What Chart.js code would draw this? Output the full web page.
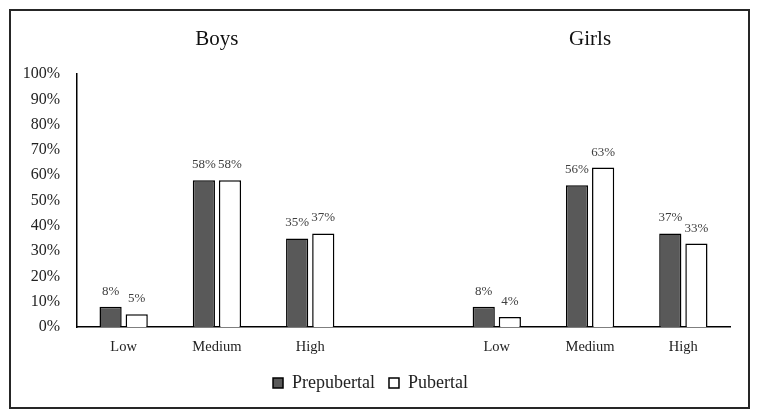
<!DOCTYPE html>
<html lang="en">

<head>
    <meta charset="UTF-8">
    <meta name="viewport" content="width=device-width, initial-scale=1.0">
    <title>Boys and Girls</title>
    <script src="https://cdn.jsdelivr.net/npm/chart.js"></script>
</head>

<body>
    <div class="container">
        <canvas id="groupChart" width="737" height="396"></canvas>
    </div>
</body>

</html>

<script>
    // values, in percent
    const categories = ["Low", "Medium", "High", "", "Low", "Medium", "High"];
    const prepubertal = [8, 58, 35, null, 8, 56, 37];
    const pubertal = [5, 58, 37, null, 4, 63, 33];
    const groupTitles = ["Boys", "Girls"];
    const titleIndex = [1, 5];   // category under each group title
    const yTicks = [0, 10, 20, 30, 40, 50, 60, 70, 80, 90, 100];

    const serif = "'Liberation Serif', 'Times New Roman', serif";

    // writes the % above each bar
    const valueLabels = {
        id: "valueLabels",
        afterDatasetsDraw(chart) {
            let ctx = chart.ctx;
            ctx.save();
            ctx.font = "13px " + serif;
            ctx.fillStyle = "#404040";
            ctx.textAlign = "center";
            ctx.textBaseline = "alphabetic";
            chart.data.datasets.forEach((ds, i) => {
                chart.getDatasetMeta(i).data.forEach((bar, j) => {
                    if (ds.data[j] === null) return;
                    ctx.fillText(ds.data[j] + "%", bar.x, bar.y - 12);
                });
            });
            ctx.restore();
        }
    };

    // the two group titles over the panels
    const groupLabels = {
        id: "groupLabels",
        afterDraw(chart) {
            let ctx = chart.ctx;
            let x = chart.scales.x;
            ctx.save();
            ctx.font = "21px " + serif;
            ctx.fillStyle = "#111";
            ctx.textAlign = "center";
            ctx.textBaseline = "middle";
            groupTitles.forEach((t, i) => {
                ctx.fillText(t, x.getPixelForValue(titleIndex[i]), 28);
            });
            ctx.restore();
        }
    };

    new Chart(document.getElementById("groupChart"), {
        type: "bar",
        data: {
            labels: categories,
            datasets: [
                {
                    label: "Prepubertal",
                    data: prepubertal,
                    backgroundColor: "#595959",
                    borderColor: "#000",
                    borderWidth: 1.5
                },
                {
                    label: "Pubertal",
                    data: pubertal,
                    backgroundColor: "#fff",
                    borderColor: "#000",
                    borderWidth: 1.5
                }
            ]
        },
        options: {
            responsive: false,
            animation: false,
            categoryPercentage: 0.56,
            barPercentage: 0.85,
            layout: { padding: { top: 63, right: 18, left: 0, bottom: 5 } },
            scales: {
                x: {
                    grid: { display: false },
                    border: { display: true, color: "#000", width: 1.5 },
                    ticks: { color: "#222", font: { family: serif, size: 14.5 }, padding: 3 },
                    afterFit(s) { s.height = 33; }
                },
                y: {
                    min: 0,
                    max: 100,
                    afterBuildTicks(s) { s.ticks = yTicks.map(v => ({ value: v })); },
                    grid: { display: false, drawTicks: false },
                    border: { display: true, color: "#000", width: 1.5 },
                    ticks: {
                        color: "#222",
                        font: { family: serif, size: 16 },
                        padding: 17,
                        callback: v => v + "%"
                    },
                    afterFit(s) { s.width = 66; }
                }
            },
            plugins: {
                legend: {
                    position: "bottom",
                    labels: {
                        boxWidth: 10,
                        boxHeight: 10,
                        padding: 14,
                        color: "#222",
                        font: { family: serif, size: 18 }
                    }
                },
                tooltip: { enabled: false }
            }
        },
        plugins: [valueLabels, groupLabels]
    });
</script>

<style>
    body {
        margin: 0;
        background: #fff;
    }

    .container {
        position: absolute;
        left: 9px;
        top: 9px;
        width: 741px;
        height: 400px;
        border: 2px solid #262626;
        box-sizing: border-box;
    }

    canvas {
        display: block;
    }
</style>
